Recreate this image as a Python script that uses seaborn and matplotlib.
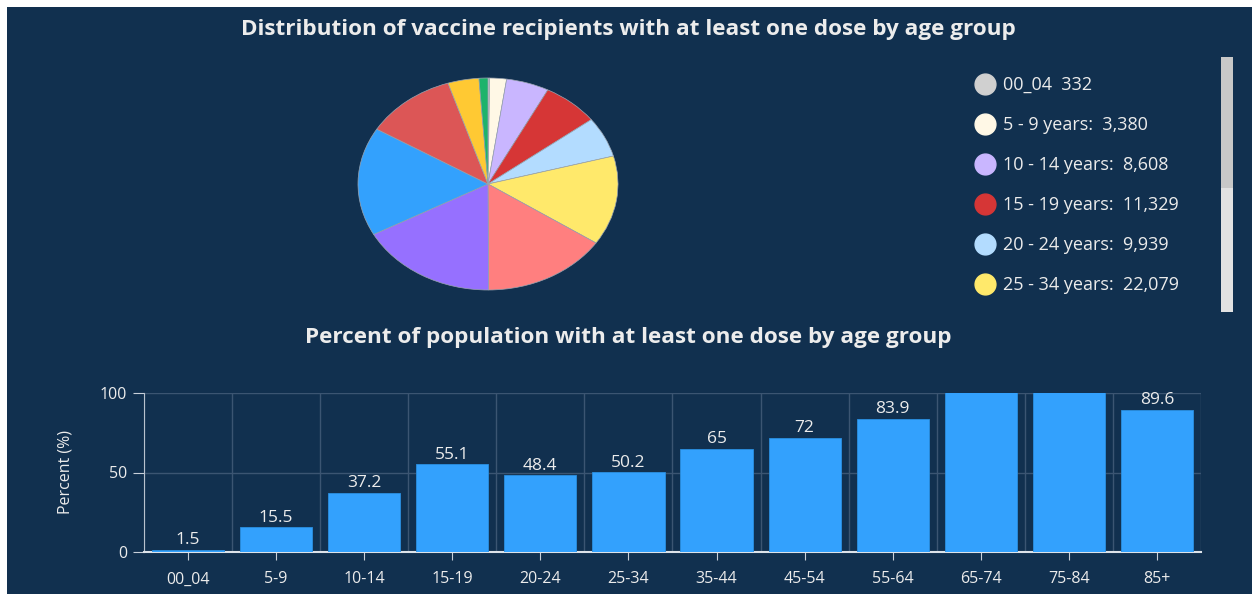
import numpy as np
import pandas as pd
import matplotlib
matplotlib.use("Agg")
import matplotlib.pyplot as plt
import seaborn as sns
from matplotlib.patches import Rectangle
from matplotlib.lines import Line2D

# pie data: recipients with at least one dose
pie_groups = ['00_04', '5 - 9 years', '10 - 14 years', '15 - 19 years', '20 - 24 years',
              '25 - 34 years', '35 - 44 years', '45 - 54 years', '55 - 64 years',
              '65 - 74 years', '75 - 84 years', '85+ years']
pie_counts = [332, 3380, 8608, 11329, 9939, 22079, 25150, 27800, 26800, 18400, 6250, 1800]
pie_colors = ['#d0d0d0', '#fff8e6', '#c9b6ff', '#d63636', '#b3dcff', '#ffe96b',
              '#ff7f7f', '#9670ff', '#33a1fd', '#dc5656', '#ffc933', '#1db36b']
legend_labels = ['00_04  332', '5 - 9 years:  3,380', '10 - 14 years:  8,608',
                 '15 - 19 years:  11,329', '20 - 24 years:  9,939', '25 - 34 years:  22,079']

# bar data: percent of population with at least one dose
bar_groups = ['00_04', '5-9', '10-14', '15-19', '20-24', '25-34',
              '35-44', '45-54', '55-64', '65-74', '75-84', '85+']
bar_pct = [1.5, 15.5, 37.2, 55.1, 48.4, 50.2, 65, 72, 83.9, 105.0, 103.0, 89.6]

BG = '#11304f'
TXT = '#ececec'
GRID = '#3b5572'

plt.rcParams['font.family'] = ['Open Sans', 'DejaVu Sans']

fig = plt.figure(figsize=(12.52, 5.94), dpi=100, facecolor='white')
fig.patches.append(Rectangle((7 / 1252, 0), 1 - 7 / 1252, 1 - 7 / 594,
                             transform=fig.transFigure, facecolor=BG, edgecolor='none', zorder=-10))

# ---- pie ----
ax_pie = fig.add_axes([358 / 1252, 1 - 290 / 594, 260 / 1252, 212 / 594])
ax_pie.pie(pie_counts, colors=pie_colors, startangle=90, counterclock=False,
           wedgeprops=dict(edgecolor='#9aa4b0', linewidth=0.5))
ax_pie.set_aspect('auto')
ax_pie.set_xlim(-1, 1)
ax_pie.set_ylim(-1, 1)
ax_pie.axis('off')

fig.text(628 / 1252, 1 - 30 / 594,
         'Distribution of vaccine recipients with at least one dose by age group',
         ha='center', va='center', color=TXT, fontsize=16.2, fontweight='bold')

# legend (first page, scrollable in the original)
handles = [Line2D([0], [0], marker='o', linestyle='none', markersize=15,
                  markerfacecolor=c, markeredgecolor=c) for c in pie_colors[:6]]
fig.legend(handles, legend_labels, loc='upper left', bbox_to_anchor=(965 / 1252, 1 - 69 / 594),
           frameon=False, labelcolor=TXT, fontsize=13, labelspacing=1.22,
           handletextpad=0.3, handlelength=1.4, borderaxespad=0)

# scrollbar
fig.patches.append(Rectangle((1221 / 1252, 1 - 312 / 594), 12 / 1252, 255 / 594,
                             transform=fig.transFigure, facecolor='#e2e2e2', edgecolor='none'))
fig.patches.append(Rectangle((1221 / 1252, 1 - 188 / 594), 12 / 1252, 131 / 594,
                             transform=fig.transFigure, facecolor='#c8c8c8', edgecolor='none'))

# ---- bars ----
fig.text(628 / 1252, 1 - 337 / 594,
         'Percent of population with at least one dose by age group',
         ha='center', va='center', color=TXT, fontsize=16.2, fontweight='bold')

ax = fig.add_axes([144 / 1252, 1 - 552 / 594, 1057 / 1252, 159 / 594])
ax.set_facecolor(BG)
df = pd.DataFrame({'age': bar_groups, 'pct': bar_pct})
sns.barplot(data=df, x='age', y='pct', color='#33a1fd', saturation=1, width=0.82,
            edgecolor='#2a8fe0', linewidth=0.6, ax=ax, zorder=3)
ax.set_ylim(0, 100)
ax.set_xlim(-0.5, len(bar_groups) - 0.5)
ax.set_yticks([0, 50, 100])
ax.set_xticks(range(len(bar_groups)))
ax.set_xticklabels(bar_groups)
ax.set_xticks(np.arange(-0.5, len(bar_groups), 1), minor=True)
ax.grid(axis='y', which='major', color=GRID, linewidth=1, zorder=0)
ax.grid(axis='x', which='minor', color=GRID, linewidth=1, zorder=0)
ax.grid(axis='x', which='major', visible=False)
ax.tick_params(axis='x', which='minor', length=0)
ax.tick_params(axis='x', which='major', colors='#c8d0da', labelcolor=TXT, length=6,
               labelsize=11.5, pad=8)
ax.tick_params(axis='y', colors='#c8d0da', labelcolor=TXT, length=8, labelsize=11.5, pad=4)
for s in ['top', 'right']:
    ax.spines[s].set_visible(False)
ax.spines['left'].set_color('#b8c2ce')
ax.spines['bottom'].set_color('#dde3ea')
ax.spines['bottom'].set_linewidth(1.5)
ax.set_xlabel('')
ax.set_ylabel('Percent (%)', color=TXT, fontsize=11.5, labelpad=19)

labels = [('%g' % v) if v <= 100 else '' for v in bar_pct]
ax.bar_label(ax.containers[0], labels=labels, color=TXT, fontsize=12.5, padding=1)

fig.savefig('out.png', dpi=100, facecolor='white')
